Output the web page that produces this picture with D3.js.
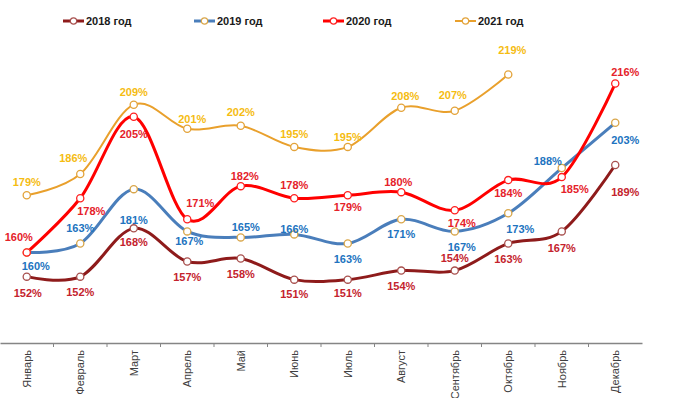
<!DOCTYPE html>
<html>
<head>
<meta charset="utf-8">
<script src="https://cdn.jsdelivr.net/npm/d3@7"></script>
<style>
  body { margin: 0; background: #fff; }
  svg { display: block; font-family: Arial, "Liberation Sans", sans-serif; }
</style>
</head>
<body>
<svg id="chart" width="680" height="398"></svg>
<script>
// months on the x axis
var months = ['Январь', 'Февраль', 'Март', 'Апрель', 'Май', 'Июнь', 'Июль',
  'Август', 'Сентябрь', 'Октябрь', 'Ноябрь', 'Декабрь'];

var seriesNames = ['2018 год', '2019 год', '2020 год', '2021 год'];

// values in %
var v2018 = [152, 152, 168, 157, 158, 151, 151, 154, 154, 163, 167, 189];
var v2019 = [160, 163, 181, 167, 165, 166, 163, 171, 167, 173, 188, 203];
var v2020 = [160, 178, 205, 171, 182, 178, 179, 180, 174, 184, 185, 216];
var v2021 = [179, 186, 209, 201, 202, 195, 195, 208, 207, 219, null, null];

// looks
var lineColors = ['#8E1B1B', '#4A7EBB', '#FF0000', '#E9A02C'];
var markColors = ['#A8504E', '#D9A64A', '#FF2020', '#E3A33A'];
var textColors = ['#C4232D', '#2173C0', '#E5222A', '#F5BC12'];
var lineWidths = [3, 3, 3, 2];

// label offsets [dx, dy] from the point (centre of label)
var labelOffsets = [
  [[1, 17], [0, 16], [0, 14], [0, 16], [0, 16], [0, 14], [0, 13], [0, 16], [0, -12], [0, 16], [0, 17], [10, 27]],
  [[9, 14], [0, -15], [0, 31], [2, 10], [5, -10], [0, -5], [0, 16], [0, 15], [7, 16], [12, 16], [-14, -7], [10, 17]],
  [[-8, -15], [11, 13], [0, 17], [13, -16], [4, -10], [0, -13], [0, 12], [-3, -10], [7, 13], [0, 13], [13, 12], [10, -11]],
  [[0, -13], [-7, -16], [0, -13], [5, -10], [0, -14], [0, -13], [0, -10], [4, -12], [-2, -16], [4, -24], [0, 0], [0, 0]]
];

var allValues = [v2018, v2019, v2020, v2021];

var svg = d3.select('#chart');

var x = d3.scaleBand().domain(months).range([0, 642]);
var y = d3.scaleLinear().domain([130, 220]).range([343, 71.5]);

function cx(i) { return x(months[i]) + x.bandwidth() / 2; }

// x axis
var axisY = 343;
var xAxis = d3.axisBottom(x).tickSize(0).tickPadding(0);
var ax = svg.append('g')
  .attr('transform', 'translate(0,' + axisY + ')')
  .call(xAxis);
ax.select('.domain').attr('stroke', '#858585').attr('stroke-width', 1.6);
ax.selectAll('.tick text')
  .attr('transform', 'translate(0,7) rotate(-90)')
  .attr('text-anchor', 'end')
  .attr('x', 0)
  .attr('y', 0)
  .attr('dy', '0.35em')
  .attr('fill', '#404040')
  .style('font-size', '11px')
  .style('font-family', 'Arial, "Liberation Sans", sans-serif');

// small ticks between the months
ax.selectAll('.sep')
  .data(months.slice(1))
  .enter().append('line')
  .attr('x1', function(d) { return x(d); })
  .attr('x2', function(d) { return x(d); })
  .attr('y1', 0)
  .attr('y2', 4)
  .attr('stroke', '#858585')
  .attr('stroke-width', 1);

var line = d3.line()
  .defined(function(d) { return d != null; })
  .x(function(d, i) { return cx(i); })
  .y(function(d) { return y(d); })
  .curve(d3.curveCardinal.tension(0));

// lines first, then markers, then labels
allValues.forEach(function(vals, s) {
  svg.append('path')
    .datum(vals)
    .attr('d', line)
    .attr('fill', 'none')
    .attr('stroke', lineColors[s])
    .attr('stroke-width', lineWidths[s])
    .attr('stroke-linejoin', 'round');
});

allValues.forEach(function(vals, s) {
  var g = svg.append('g');
  vals.forEach(function(v, i) {
    if (v == null) return;
    g.append('circle')
      .attr('cx', cx(i))
      .attr('cy', y(v))
      .attr('r', 3.6)
      .attr('fill', '#fff')
      .attr('stroke', markColors[s])
      .attr('stroke-width', 1.3);
  });
});

allValues.forEach(function(vals, s) {
  var g = svg.append('g');
  vals.forEach(function(v, i) {
    if (v == null) return;
    var off = labelOffsets[s][i];
    g.append('text')
      .attr('x', cx(i) + off[0])
      .attr('y', y(v) + off[1])
      .attr('dy', '0.35em')
      .attr('text-anchor', 'middle')
      .attr('fill', textColors[s])
      .style('font-size', '11px')
      .style('font-weight', 'bold')
      .text(v + '%');
  });
});

// legend
var legendX = [63, 194, 323, 455];
var legend = svg.append('g');
seriesNames.forEach(function(name, s) {
  var lg = legend.append('g').attr('transform', 'translate(' + legendX[s] + ',21)');
  lg.append('line')
    .attr('x1', 0).attr('x2', 21)
    .attr('y1', 0).attr('y2', 0)
    .attr('stroke', lineColors[s])
    .attr('stroke-width', lineWidths[s]);
  lg.append('circle')
    .attr('cx', 10.5).attr('cy', 0).attr('r', 3.2)
    .attr('fill', '#fff')
    .attr('stroke', markColors[s])
    .attr('stroke-width', 1.2);
  lg.append('text')
    .attr('x', 23)
    .attr('y', 0)
    .attr('dy', '0.35em')
    .attr('fill', '#1a1a1a')
    .style('font-size', '11px')
    .style('font-weight', 'bold')
    .text(name);
});
</script>
</body>
</html>
